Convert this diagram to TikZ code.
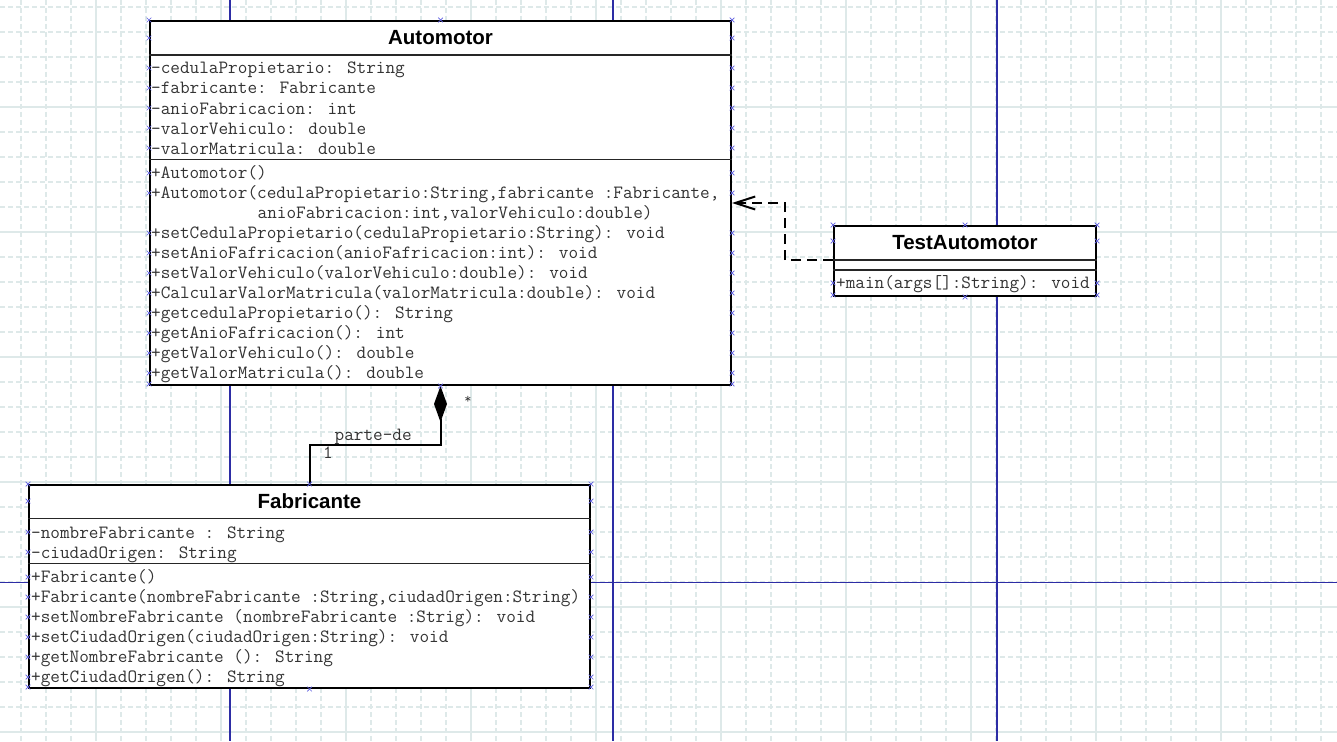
\documentclass[tikz,border=0pt]{standalone}
\usepackage{fontspec}
\usetikzlibrary{arrows.meta,calc}
\newfontfamily\umlsans{Liberation Sans}
\definecolor{gridcol}{RGB}{222,233,233}
\definecolor{pagecol}{RGB}{45,45,165}
\definecolor{handlecol}{RGB}{95,95,225}

\tikzset{
  classbox/.style={draw=black, line width=2pt, fill=white, rectangle, inner sep=0pt, anchor=north west},
  compartline/.style={line width=1.8pt, draw=black!85},
  member/.style={anchor=base west, inner sep=0pt, font=\ttfamily\fontsize{18.7}{20}\selectfont, text=black!80},
  classname/.style={anchor=base, inner sep=0pt, font=\umlsans\bfseries\fontsize{20.5}{24}\selectfont},
  gridminor/.style={draw=gridcol, line width=1.1pt, dash pattern=on 5pt off 3pt},
  gridmajor/.style={draw=gridcol, line width=1.1pt},
  pageline/.style={draw=pagecol, line width=1.3pt},
  composition/.style={draw=black, line width=2pt, {Diamond[length=36pt,width=13pt]}-},
  dependency/.style={draw=black, line width=2pt, dash pattern=on 10pt off 6pt, -{Straight Barb[length=20pt,width=13pt]}},
  handle/.pic={\draw[handlecol, line width=0.7pt] (-2.3,-2.3) -- (2.3,2.3) (-2.3,2.3) -- (2.3,-2.3);}
}

\begin{document}
\begin{tikzpicture}[x=1pt,y=-1pt]
\useasboundingbox[fill=white] (0,0) rectangle (1337,741);

% drawing grid
\foreach \gx in {21,46,...,1321} \draw[gridminor] (\gx,0) -- (\gx,741);
\foreach \gy in {7,32,...,732} \draw[gridminor] (0,\gy) -- (1337,\gy);
\foreach \gx in {96,221,...,1221} \draw[gridmajor] (\gx,0) -- (\gx,741);
\foreach \gy in {107,232,...,732} \draw[gridmajor] (0,\gy) -- (1337,\gy);

% page breaks
\foreach \gx in {230,613,997} \draw[pageline] (\gx,0) -- (\gx,741);
\draw[pageline] (0,582.5) -- (1337,582.5);

% ---------------- Automotor ----------------
\node[classbox, minimum width=581pt, minimum height=364pt] (automotor) at (149,20) {};
\draw[compartline] ($(automotor.north west)+(0,35)$) -- ($(automotor.north east)+(0,35)$);
\draw[compartline] ($(automotor.north west)+(0,139.5)$) -- ($(automotor.north east)+(0,139.5)$);
\node[classname] (automotorName) at ($(automotor.north)+(0,25)$) {Automotor};

\node[member] (automotorAttr1) at (151,74) {-cedulaPropietario: String};
\node[member] (automotorAttr2) at (151,94) {-fabricante: Fabricante};
\node[member] (automotorAttr3) at (151,114) {-anioFabricacion: int};
\node[member] (automotorAttr4) at (151,134) {-valorVehiculo: double};
\node[member] (automotorAttr5) at (151,154) {-valorMatricula: double};

\node[member] (automotorOp1) at (151,178.5) {+Automotor()};
\node[member] (automotorOp2) at (151,198.5) {+Automotor(cedulaPropietario:String,fabricante :Fabricante,};
\node[member] (automotorOp2b) at (257.5,218.5) {anioFabricacion:int,valorVehiculo:double)};
\node[member] (automotorOp3) at (151,238.5) {+setCedulaPropietario(cedulaPropietario:String): void};
\node[member] (automotorOp4) at (151,258.5) {+setAnioFafricacion(anioFafricacion:int): void};
\node[member] (automotorOp5) at (151,278.5) {+setValorVehiculo(valorVehiculo:double): void};
\node[member] (automotorOp6) at (151,298.5) {+CalcularValorMatricula(valorMatricula:double): void};
\node[member] (automotorOp7) at (151,318.5) {+getcedulaPropietario(): String};
\node[member] (automotorOp8) at (151,338.5) {+getAnioFafricacion(): int};
\node[member] (automotorOp9) at (151,358.5) {+getValorVehiculo(): double};
\node[member] (automotorOp10) at (151,378.5) {+getValorMatricula(): double};

% ---------------- TestAutomotor ----------------
\node[classbox, minimum width=262pt, minimum height=70pt] (test) at (833,225) {};
\draw[compartline] ($(test.north west)+(0,35)$) -- ($(test.north east)+(0,35)$);
\draw[compartline] ($(test.north west)+(0,45)$) -- ($(test.north east)+(0,45)$);
\node[classname] (testName) at ($(test.north)+(0,24.5)$) {TestAutomotor};
\node[member] (testOp1) at (836,288.5) {+main(args[]:String): void};

% ---------------- Fabricante ----------------
\node[classbox, minimum width=561pt, minimum height=203pt] (fabricante) at (28,484) {};
\draw[compartline] ($(fabricante.north west)+(0,34.5)$) -- ($(fabricante.north east)+(0,34.5)$);
\draw[compartline] ($(fabricante.north west)+(0,79.5)$) -- ($(fabricante.north east)+(0,79.5)$);
\node[classname] (fabricanteName) at ($(fabricante.north)+(0,24)$) {Fabricante};

\node[member] (fabricanteAttr1) at (31,538) {-nombreFabricante : String};
\node[member] (fabricanteAttr2) at (31,558) {-ciudadOrigen: String};

\node[member] (fabricanteOp1) at (31,582.5) {+Fabricante()};
\node[member] (fabricanteOp2) at (31,602.5) {+Fabricante(nombreFabricante :String,ciudadOrigen:String)};
\node[member] (fabricanteOp3) at (31,622.5) {+setNombreFabricante (nombreFabricante :Strig): void};
\node[member] (fabricanteOp4) at (31,642.5) {+setCiudadOrigen(ciudadOrigen:String): void};
\node[member] (fabricanteOp5) at (31,662.5) {+getNombreFabricante (): String};
\node[member] (fabricanteOp6) at (31,682.5) {+getCiudadOrigen(): String};

% ---------------- relations ----------------
\draw[composition] (automotor.south) -- ++(0,59) -| (fabricante.north);
\node[member] (parteDe) at (334.5,440) {parte-de};
\node[member] (multOne) at (323,458) {1};
\node[inner sep=0pt, font=\ttfamily\fontsize{14}{16}\selectfont, text=black!80] (multMany) at (468,400) {*};

\draw[dependency] ($(test.north west)+(0,35)$) -- ++(-48,0) |- (automotor.east);

% ---------------- selection handles ----------------
\foreach \hy in {20,38,68,88,108,128,148,173,193,233,253,273,293,313,333,353,373,384} {
  \pic at (automotor.west |- 0,\hy) {handle};
  \pic at (automotor.east |- 0,\hy) {handle};
}
\pic at (automotor.north) {handle};
\pic at (automotor.south) {handle};

\foreach \hy in {225,241,283,295} {
  \pic at (test.west |- 0,\hy) {handle};
  \pic at (test.east |- 0,\hy) {handle};
}
\pic at (test.north) {handle};
\pic at (test.south) {handle};

\foreach \hy in {484,501,532,552,577,597,617,637,657,677,687} {
  \pic at (fabricante.west |- 0,\hy) {handle};
  \pic at (fabricante.east |- 0,\hy) {handle};
}
\pic at (fabricante.north) {handle};
\pic at (fabricante.south) {handle};
\end{tikzpicture}
\end{document}
